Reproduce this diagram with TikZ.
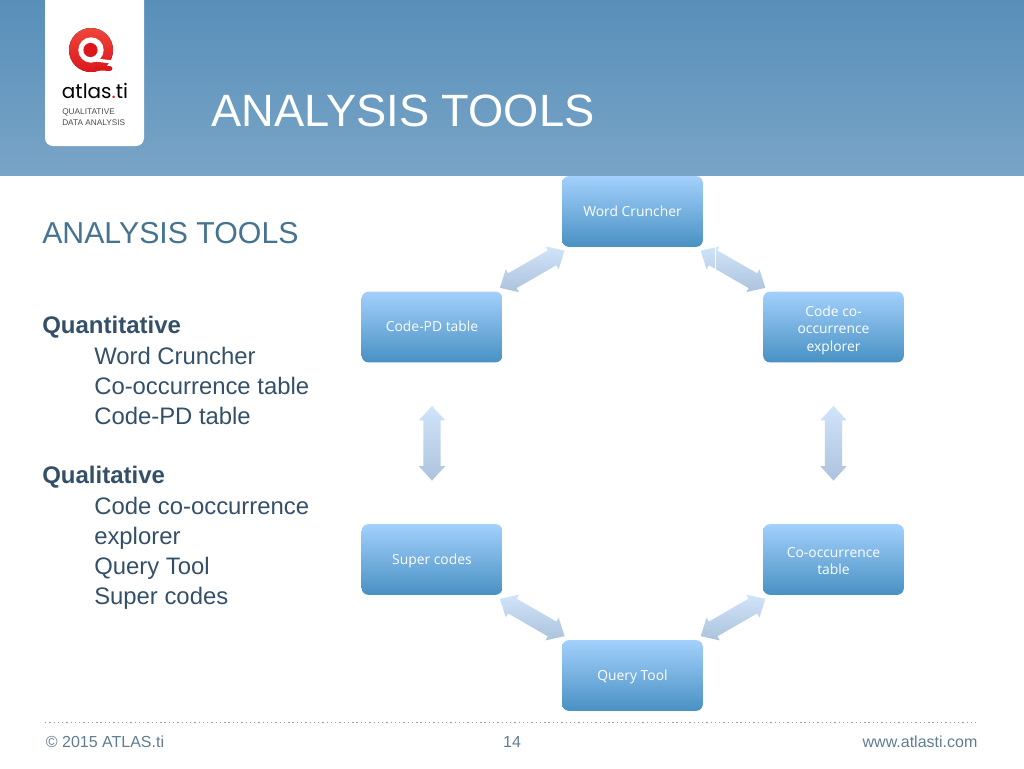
\documentclass[tikz,border=0pt]{standalone}
\usepackage{xcolor}
\usepackage{fontspec}
\setmainfont{Liberation Sans}
\newfontfamily\boxfont{Open Sans}
\newfontfamily\logofont{Poppins}
\usetikzlibrary{shapes.arrows, positioning, calc}
\definecolor{hdrtop}{RGB}{88,143,185}
\definecolor{hdrbottom}{RGB}{121,164,199}
\definecolor{boxtop}{RGB}{163,208,252}
\definecolor{boxbottom}{RGB}{72,145,195}
\definecolor{linktop}{RGB}{208,228,250}
\definecolor{linkbottom}{RGB}{172,195,220}
\definecolor{subtitle}{RGB}{70,115,145}
\definecolor{listtext}{RGB}{52,80,105}
\definecolor{foottext}{RGB}{95,125,145}
\definecolor{logored}{RGB}{222,22,28}
\definecolor{logolight}{RGB}{238,70,60}
\newcommand{\boxlift}{\rule{0pt}{12.6pt}}
\tikzset{
  topicbox/.style={rectangle, rounded corners=5pt, top color=boxtop, bottom color=boxbottom,
    minimum width=105.5pt, minimum height=53pt, inner sep=0pt, align=center, text=white,
    font=\boxfont\fontsize{10.4}{13.2}\selectfont,
    execute at begin node={\rule{0pt}{10pt}}, execute at end node={\rule[-2.7pt]{0pt}{2.7pt}}},
  link/.style={double arrow, sloped, inner xsep=0pt, inner ysep=6.2pt, minimum height=56pt,
    double arrow head extend=3.5pt, double arrow tip angle=85,
    top color=linktop, bottom color=linkbottom},
  listhead/.style={anchor=base west, inner sep=0pt, text=listtext, font=\fontsize{18}{20}\bfseries\selectfont},
  listitem/.style={anchor=base west, inner sep=0pt, text=listtext, font=\fontsize{17.9}{20}\selectfont},
  foot/.style={anchor=base, inner sep=0pt, text=foottext, font=\fontsize{12}{14}\selectfont}
}

\begin{document}
\begin{tikzpicture}[x=0.75pt, y=-0.75pt]
    \useasboundingbox (0,0) rectangle (1024,768);
    % Header
    \fill[top color=hdrtop, bottom color=hdrbottom] (0,0) rectangle (1024,175);
    \fill[white, rounded corners=6pt] (45,-20) rectangle (144,146);
    \node[anchor=base west, inner sep=0pt, text=white, font=\fontsize{33.95}{36}\selectfont] (title) at (211,126) {ANALYSIS TOOLS};

    % Logo
    \fill[top color=logolight, bottom color=logored] (91,50) circle[radius=16.5pt];
    \fill[white] (91,50) circle[radius=9.5pt];
    \fill[logored] (90.5,50) circle[radius=5.3pt];
    \draw[white, line width=2.4pt] (92,59.5) -- (116,62.5);
    \draw[logored, line width=3.6pt, line cap=round] (97,68) -- (110,68.5);
    \node[anchor=base, inner sep=0pt, font=\logofont\fontsize{15}{18}\selectfont] (logoname) at (95,98) {atlas{\color{logored}.}ti};
    \node[anchor=north west, inner sep=0pt, align=left, text=black!70, font=\fontsize{6.2}{8.2}\selectfont] (logotag) at (62,108.5) {QUALITATIVE\\DATA ANALYSIS};

    % Left text
    \node[anchor=base west, inner sep=0pt, text=subtitle, font=\fontsize{22.7}{26}\selectfont] (subhead) at (42,243) {ANALYSIS TOOLS};
    \node[listhead] (quant) at (42,333) {Quantitative};
    \node[listitem] (q1) at (94,364) {Word Cruncher};
    \node[listitem] (q2) at (94,394) {Co-occurrence table};
    \node[listitem] (q3) at (94,424) {Code-PD table};
    \node[listhead] (qual) at (42,483) {Qualitative};
    \node[listitem] (l1) at (94,514) {Code co-occurrence};
    \node[listitem] (l2) at (94,544) {explorer};
    \node[listitem] (l3) at (94,574) {Query Tool};
    \node[listitem] (l4) at (94,604) {Super codes};

    % Topic boxes
    \node[topicbox] (word) at (632.5,211.5) {Word Cruncher};
    \node[topicbox] (codepd) at (432,327) {Code-PD table};
    \node[topicbox] (coder) at (833.5,327) {\boxlift Code co-\\occurrence\\explorer};
    \node[topicbox] (super) at (432,559.5) {Super codes};
    \node[topicbox] (cotable) at (833.5,559.5) {\boxlift Co-occurrence\\table};
    \node[topicbox] (query) at (632.5,675.5) {Query Tool};

    % Links
    \path (word) -- node[link] (l12) {} (codepd);
    \path (word) -- node[link] (l13) {} (coder);
    \path (codepd) -- node[link] (l24) {} (super);
    \path (coder) -- node[link] (l35) {} (cotable);
    \path (super) -- node[link] (l46) {} (query);
    \path (cotable) -- node[link] (l56) {} (query);
    \draw[white, line width=0.6pt] (715.5,247) -- (715.5,269);

    % Footer
    \draw[foottext!70, line width=1pt, dash pattern=on 1pt off 2.2pt] (45,722.5) -- (979,722.5);
    \node[foot] (copy) at (105,747) {© 2015 ATLAS.ti};
    \node[foot] (page) at (512,747) {14};
    \node[foot] (web) at (920,747) {www.atlasti.com};
  \end{tikzpicture}
\end{document}
